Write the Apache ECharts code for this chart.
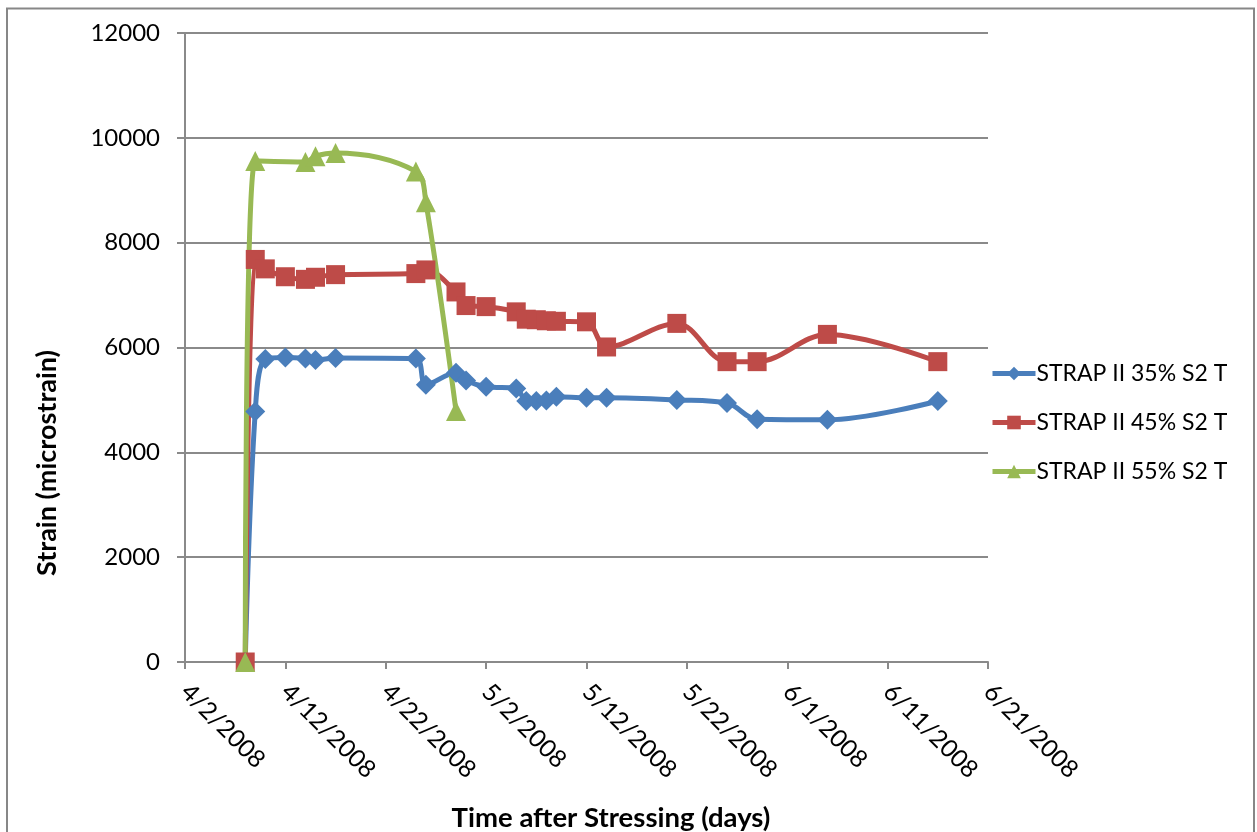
<!DOCTYPE html>
<html>
<head>
<meta charset="utf-8">
<title>STRAP II S2 T strain</title>
<script src="https://cdn.jsdelivr.net/npm/echarts@6/dist/echarts.min.js"></script>
<style>
  html, body { margin: 0; padding: 0; background: #ffffff; }
  #chart { width: 1257px; height: 832px; }
</style>
</head>
<body>
<div id="chart"></div>
<script>
// Measurement dates (M/D/YYYY) and strain readings in microstrain
const dates35 = ['4/8/2008', '4/9/2008', '4/10/2008', '4/12/2008', '4/14/2008', '4/15/2008', '4/17/2008',
  '4/25/2008', '4/26/2008', '4/29/2008', '4/30/2008', '5/2/2008', '5/5/2008', '5/6/2008', '5/7/2008',
  '5/8/2008', '5/9/2008', '5/12/2008', '5/14/2008', '5/21/2008', '5/26/2008', '5/29/2008', '6/5/2008', '6/16/2008'];
const strain35 = [0, 4780, 5780, 5810, 5790, 5760, 5800,
  5790, 5290, 5520, 5370, 5250, 5220, 4980, 4980,
  4990, 5060, 5040, 5040, 5000, 4940, 4630, 4620, 4980];

const dates45 = dates35;
const strain45 = [0, 7680, 7500, 7350, 7300, 7340, 7390,
  7410, 7480, 7060, 6800, 6780, 6680, 6540, 6530,
  6510, 6500, 6490, 6010, 6460, 5730, 5730, 6250, 5730];

const dates55 = ['4/8/2008', '4/9/2008', '4/14/2008', '4/15/2008', '4/17/2008', '4/25/2008', '4/26/2008', '4/29/2008'];
const strain55 = [0, 9560, 9540, 9650, 9710, 9360, 8770, 4790];

const seriesNames = ['STRAP II 35% S2 T', 'STRAP II 45% S2 T', 'STRAP II 55% S2 T'];

// Axis range: 4/2/2008 to 6/21/2008, ticks every 10 days; strain 0..12000 by 2000
const axisStartDate = '4/2/2008';
const axisDays = 80;
const dayStep = 10;
const strainMax = 12000;
const strainStep = 2000;

const DAY_MS = 86400000;
function toUTC(s) {
  const [m, d, y] = s.split('/').map(Number);
  return Date.UTC(y, m - 1, d);
}
const originMs = toUTC(axisStartDate);
function dayOffset(s) { return Math.round((toUTC(s) - originMs) / DAY_MS); }
function dayLabel(v) {
  const dt = new Date(originMs + v * DAY_MS);
  return (dt.getUTCMonth() + 1) + '/' + dt.getUTCDate() + '/' + dt.getUTCFullYear();
}
function pairs(dates, vals) { return dates.map((d, i) => [dayOffset(d), vals[i]]); }

const FONT = 'Lato';
const chart = echarts.init(document.getElementById('chart'), null, { renderer: 'canvas' });

const gridColor = '#8a8a8a';

function lineSeries(name, data, color, symbol, size) {
  return {
    name, type: 'line', data, smooth: 0.35,
    symbol, symbolSize: size,
    itemStyle: { color },
    lineStyle: { color, width: 5 },
    emphasis: { disabled: true },
    animation: false
  };
}

chart.setOption({
  backgroundColor: '#ffffff',
  animation: false,
  grid: { left: 185, top: 33, right: 269, bottom: 170, containLabel: false },
  xAxis: {
    type: 'value', min: 0, max: axisDays, interval: dayStep,
    axisLine: { show: true, onZero: false, lineStyle: { color: gridColor, width: 2 } },
    axisTick: { show: true, length: 7, lineStyle: { color: gridColor, width: 2 } },
    splitLine: { show: false },
    axisLabel: {
      rotate: -45, margin: 26, formatter: dayLabel,
      fontFamily: FONT, fontSize: 24.5, color: '#000000'
    }
  },
  yAxis: {
    type: 'value', min: 0, max: strainMax, interval: strainStep,
    axisLine: { show: true, lineStyle: { color: gridColor, width: 2 } },
    axisTick: { show: true, length: 8, lineStyle: { color: gridColor, width: 2 } },
    splitLine: { show: true, lineStyle: { color: gridColor, width: 2 } },
    axisLabel: {
      margin: 25, formatter: v => String(v),
      fontFamily: FONT, fontSize: 24, color: '#000000'
    }
  },
  legend: {
    orient: 'vertical', left: 990, top: 361, padding: 0,
    itemWidth: 43, itemHeight: 17, itemGap: 24,
    lineStyle: { width: 5 },
    textStyle: { fontFamily: FONT, fontSize: 23, color: '#000000', lineHeight: 25, padding: [0, 0, 0, -4] },
    data: seriesNames
  },
  graphic: [
    {
      type: 'rect', silent: true,
      shape: { x: 7, y: 8.5, width: 1247, height: 840 },
      style: { fill: 'none', stroke: '#878787', lineWidth: 2 }
    },
    {
      type: 'text', silent: true, x: 47, y: 463, rotation: Math.PI / 2,
      style: {
        text: 'Strain (microstrain)', fontFamily: FONT, fontWeight: 'bold', fontSize: 27,
        fill: '#000000', align: 'center', verticalAlign: 'middle'
      }
    },
    {
      type: 'text', silent: true, x: 611, y: 818,
      style: {
        text: 'Time after Stressing (days)', fontFamily: FONT, fontWeight: 'bold', fontSize: 27.5,
        fill: '#000000', align: 'center', verticalAlign: 'middle'
      }
    }
  ],
  series: [
    lineSeries(seriesNames[0], pairs(dates35, strain35), '#4a7ebb', 'diamond', 20),
    lineSeries(seriesNames[1], pairs(dates45, strain45), '#be4b48', 'rect', 19),
    lineSeries(seriesNames[2], pairs(dates55, strain55), '#98b954', 'triangle', 20)
  ]
});
</script>
</body>
</html>
